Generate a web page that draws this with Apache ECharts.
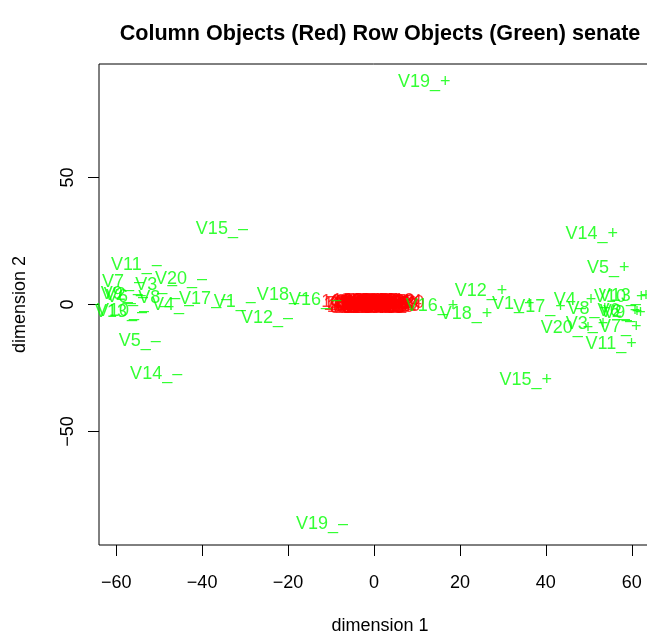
<!DOCTYPE html>
<html lang="en">
<head>
    <meta charset="UTF-8">
    <title>senate</title>
    <script src="https://cdn.jsdelivr.net/npm/echarts@6/dist/echarts.min.js"></script>
    <style>
        html, body { margin: 0; padding: 0; background: #fff; }
        #chart { width: 647px; height: 639px; }
    </style>
</head>
<body>
    <div id="chart"></div>
    <script>
        // green labels (vote columns)
        const colLabels = [
            "V1_+", "V1_–", "V2_+", "V2_–", "V3_+", "V3_–", "V4_+", "V4_–", "V5_+", "V5_–",
            "V6_+", "V6_–", "V7_+", "V7_–", "V8_+", "V8_–", "V9_+", "V9_–", "V10_+", "V10_–",
            "V11_+", "V11_–", "V12_+", "V12_–", "V13_+", "V13_–", "V14_+", "V14_–", "V15_+", "V15_–",
            "V16_+", "V16_–", "V17_+", "V17_–", "V18_+", "V18_–", "V19_+", "V19_–", "V20_+", "V20_–"
        ];
        const colX = [
            32.4, -32.4, 57.5, -58.0, 49.6, -50.7, 46.8, -46.8, 54.5, -54.5,
            57.0, -57.5, 57.3, -58.4, 50.0, -50.0, 58.3, -58.7, 57.3, -58.4,
            55.2, -55.3, 24.9, -24.9, 58.4, -58.9, 50.7, -50.7, 35.3, -35.4,
            13.5, -13.7, 38.5, -39.3, 21.4, -21.2, 11.7, -12.1, 44.9, -44.9
        ];
        const colY = [
            0.2, 0.8, -3.0, 3.6, -7.5, 7.5, 1.6, -0.4, 14.2, -14.2,
            -2.5, 3.0, -8.7, 9.0, -1.6, 2.4, -3.3, 4.3, 3.1, -2.4,
            -15.7, 15.4, 5.5, -5.5, 3.5, -3.1, 27.6, -27.2, -29.9, 29.9,
            -0.6, 1.6, -0.8, 2.0, -3.9, 3.9, 87.6, -86.6, -9.4, 10.2
        ];

        // red labels (senators, rows)
        const rowX = [
            -9.0, -8.1, -7.7, -7.4, -7.0, -6.6, -6.3, -6.0, -5.8, -5.4,
            -5.1, -4.9, -4.7, -4.3, -4.1, -3.8, -3.6, -3.3, -3.2, -2.9,
            -2.6, -2.5, -2.2, -2.0, -1.9, -1.6, -1.4, -1.3, -1.0, -0.9,
            -0.6, -0.5, -0.2, -0.1, 0.2, 0.3, 0.5, 0.8, 0.9, 1.2,
            1.3, 1.6, 1.7, 2.0, 2.1, 2.4, 2.6, 2.9, 3.0, 3.3,
            3.5, 3.8, 4.0, 4.3, 4.6, 4.8, 5.2, 5.5, 5.8, 6.1,
            6.5, 7.6, -7.2, -5.6, -4.5, -3.0, -1.7, -0.3, 1.1, 2.3,
            3.7, 5.0, 6.3, -6.1, -2.7, 0.6, 4.5, -8.9, 8.0, -0.8,
            -7.9, -6.8, -5.3, -4.0, -2.3, -1.1, 0.1, 1.5, 2.7, 4.1,
            5.4, 7.3, -8.0, -3.5, -0.7, 1.9, 3.2, 5.7, -6.4, 0.4,
            -8.8, -7.5, -6.2, -4.8, -3.4, -2.1, -0.4, 0.7, 1.8, 3.4,
            4.9, 6.0, 7.4, 7.8, -8.4, -1.5, 2.5, 5.9, -5.0, 8.2
        ];
        const rowY = [
            0.4, -0.6, 1.1, -0.2, 0.7, -1.0, 0.3, 1.4, -0.5, 0.9,
            -1.3, 0.1, 1.2, -0.8, 0.5, -0.3, 1.5, -1.1, 0.2, 0.8,
            -0.6, 1.3, -1.4, 0.4, -0.1, 1.0, -0.9, 0.6, -1.5, 0.2,
            1.1, -0.4, 0.7, -1.2, 0.3, 1.4, -0.7, 0.0, -1.3, 0.9,
            -0.2, 1.2, -1.0, 0.5, -0.6, 1.5, -1.4, 0.1, 0.8, -0.9,
            0.4, -1.2, 1.0, -0.3, 0.6, -1.5, 0.9, -0.5, 0.3, -1.1,
            0.7, -0.2, -1.3, 1.3, -0.7, 1.4, 0.8, -1.0, 1.2, -0.4,
            0.5, -0.8, 0.2, -0.4, -1.2, 1.0, -1.0, 0.1, 0.3, -0.6,
            -1.4, 0.6, -0.9, 1.3, -0.5, 1.1, -1.1, 0.4, -0.3, 1.2,
            -1.3, 0.9, -0.4, -1.5, 1.4, -0.8, 1.3, 0.0, -1.2, -0.2,
            0.8, -0.9, 1.4, -0.1, 0.6, -1.3, 1.0, -0.7, 1.3, -1.4,
            0.3, 1.2, -0.6, 0.9, -0.3, 0.2, -1.1, -1.0, -0.1, 0.5
        ];

        const xTicks = [-60, -40, -20, 0, 20, 40, 60];
        const yTicks = [-50, 0, 50];

        const font = "'Liberation Sans', Arial, sans-serif";
        const minus = (v) => (v < 0 ? "\u2212" + Math.abs(v) : String(v));

        const rowData = rowX.map((x, i) => [x, rowY[i], String(i + 1)]);
        const colData = colX.map((x, i) => [x, colY[i], colLabels[i]]);

        const labelSeries = (data, color, z) => ({
            type: "scatter",
            data: data,
            symbolSize: 0.1,
            itemStyle: { color: "rgba(0,0,0,0)" },
            z: z,
            label: {
                show: true,
                position: "inside",
                formatter: (p) => p.data[2],
                color: color,
                fontSize: 18,
                fontFamily: font
            }
        });

        const chart = echarts.init(document.getElementById("chart"));
        chart.setOption({
            animation: false,
            backgroundColor: "#fff",
            title: {
                text: "Column Objects (Red) Row Objects (Green) senate",
                left: 375,
                textAlign: "center",
                top: 18,
                textStyle: { fontSize: 21.6, fontWeight: "bold", fontFamily: font, color: "#000" }
            },
            // the R plot box runs past the right edge of the window
            grid: {
                left: 99, top: 64, width: 562, height: 481,
                outerBoundsMode: "none",
                show: true, borderColor: "#000", borderWidth: 1
            },
            xAxis: {
                type: "value",
                min: -64.0, max: 66.8,
                splitLine: { show: false },
                axisLine: { show: false, onZero: false },
                axisTick: { show: true, customValues: xTicks, length: 11, lineStyle: { color: "#000" } },
                axisLabel: { customValues: xTicks, formatter: minus, fontSize: 18, fontFamily: font, color: "#000", margin: 29 },
                name: "dimension 1",
                nameLocation: "middle",
                nameGap: 72,
                nameTextStyle: { fontSize: 18, fontFamily: font, color: "#000" }
            },
            yAxis: {
                type: "value",
                min: -94.7, max: 94.7,
                splitLine: { show: false },
                axisLine: { show: false, onZero: false },
                axisTick: { show: true, customValues: yTicks, length: 11, lineStyle: { color: "#000" } },
                axisLabel: { customValues: yTicks, formatter: minus, rotate: 90, fontSize: 18, fontFamily: font, color: "#000", margin: 22 },
                name: "dimension 2",
                nameLocation: "middle",
                nameGap: 70,
                nameTextStyle: { fontSize: 18, fontFamily: font, color: "#000" }
            },
            series: [
                labelSeries(rowData, "#ff0000", 2),
                labelSeries(colData, "#00ff00", 3)
            ]
        });
    </script>
</body>
</html>
